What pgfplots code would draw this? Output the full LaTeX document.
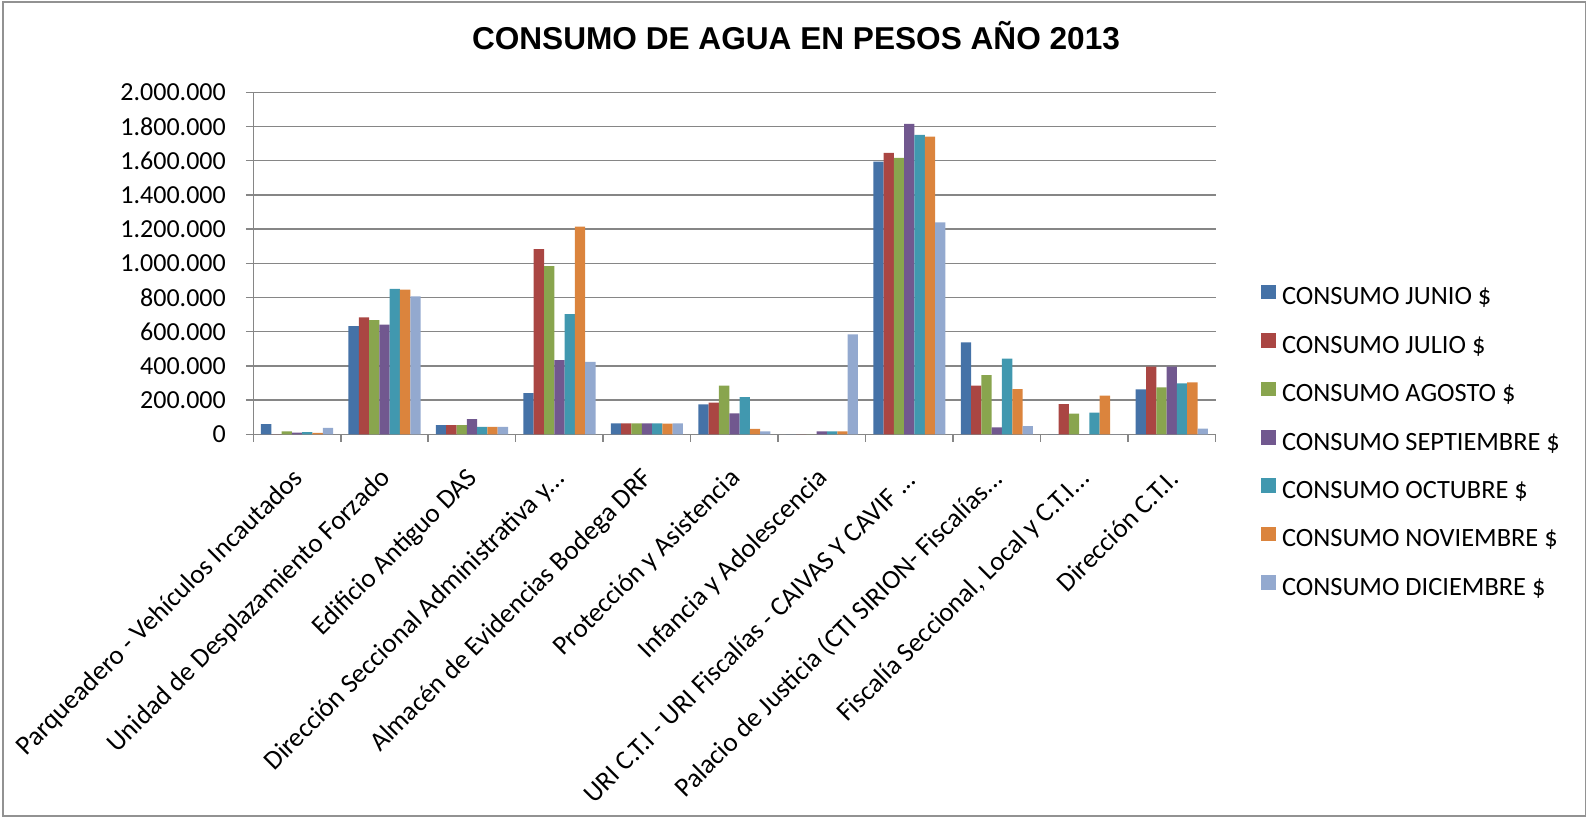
\documentclass[border=0pt]{standalone}
\usepackage{fontspec}
\setmainfont{Carlito}
\newfontfamily\titlefont{Liberation Sans}
\usepackage{pgfplots}
\usepackage{pgfplotstable}
\pgfplotsset{compat=1.18}

\definecolor{cjun}{HTML}{4572A7}
\definecolor{cjul}{HTML}{AA4643}
\definecolor{cago}{HTML}{89A54E}
\definecolor{csep}{HTML}{71588F}
\definecolor{coct}{HTML}{4198AF}
\definecolor{cnov}{HTML}{DB843D}
\definecolor{cdic}{HTML}{93A9CF}
\definecolor{gridgray}{HTML}{868686}

\newcommand\pts{.{}.{}.}

% consumo por dependencia (pesos), junio a diciembre
\pgfplotstableread{
x  jun     jul     ago     sep     oct     nov     dic
0  60000   0       17000   10000   13000   8000    37000
1  633000  684000  667000  641000  851000  846000  807000
2  54000   54000   54000   88000   43000   43000   43000
3  241000  1083000 984000  434000  703000  1214000 423000
4  64000   64000   64000   64000   64000   62000   64000
5  175000  185000  284000  123000  218000  31000   17000
6  0       0       0       17000   17000   17000   585000
7  1595000 1645000 1616000 1815000 1751000 1741000 1239000
8  537000  284000  346000  41000   443000  264000  48000
9  0       177000  121000  0       126000  226000  0
10 263000  395000  275000  395000  298000  304000  33000
}\agua

\begin{document}
\begin{tikzpicture}[x=1pt,y=1pt]
\useasboundingbox (0,0) rectangle (793.5,408.5);
\draw[gridgray!90, line width=0.75pt] (1.5,0.5) rectangle (792.8,407.5);
\node[font=\titlefont\bfseries\fontsize{15.8}{19}\selectfont, anchor=base]
  at (398,383.5) {CONSUMO DE AGUA EN PESOS AÑO 2013};
\begin{axis}[
  at={(126.65pt,191.35pt)}, anchor=south west,
  scale only axis, width=481.1pt, height=171pt,
  ybar=0pt, bar width=5.15pt,
  xmin=-0.5, xmax=10.5, ymin=0, ymax=2000000,
  axis x line=bottom, axis y line=left,
  axis line style={-, draw=gridgray, line width=0.75pt},
  tick align=outside, major tick length=3.75pt,
  major tick style={draw=gridgray, line width=0.75pt},
  ymajorgrids, grid style={draw=gridgray, line width=0.75pt},
  ytick={0,200000,...,2000000}, scaled y ticks=false,
  yticklabel style={font=\fontsize{13}{15}\selectfont, anchor=east, inner sep=0pt, xshift=-9.8pt,
    /pgf/number format/.cd, fixed, precision=0, 1000 sep={.}, assume math mode=true},
  xtick={-0.5,0.5,...,10.5}, xticklabels={},
  extra x ticks={0,1,2,3,4,5,6,7,8,9,10},
  extra x tick style={major tick length=0pt, grid=none},
  extra x tick labels={
    {Parqueadero - Vehículos Incautados},
    {Unidad de Desplazamiento Forzado},
    {Edificio Antiguo DAS},
    {Dirección Seccional Administrativa y\pts},
    {Almacén de Evidencias Bodega DRF},
    {Protección y Asistencia},
    {Infancia y Adolescencia},
    {URI C.T.I - URI Fiscalías - CAIVAS Y CAVIF \pts},
    {Palacio de Justicia (CTI SIRION- Fiscalías\pts},
    {Fiscalía Seccional, Local y C.T.I\pts},
    {Dirección C.T.I.}},
  xticklabel style={font=\fontsize{13.5}{15}\selectfont, inner sep=0pt,
    xshift=1pt, yshift=-20pt, rotate=45, anchor=east},
  legend style={at={(1.0473,0.4383)}, anchor=north west, draw=none, fill=none,
    font=\fontsize{13.2}{15}\selectfont, row sep=11.1pt, inner sep=0pt,
    nodes={inner sep=0pt, text height=9pt, text depth=3pt},
    /tikz/every odd column/.append style={column sep=3pt}},
  legend cell align=left,
  legend image code/.code={\fill[#1] (0pt,-0.2pt) rectangle (7.3pt,7.1pt);},
]
\addplot[fill=cjun, draw=none] table[x=x, y=jun] {\agua};
\addplot[fill=cjul, draw=none] table[x=x, y=jul] {\agua};
\addplot[fill=cago, draw=none] table[x=x, y=ago] {\agua};
\addplot[fill=csep, draw=none] table[x=x, y=sep] {\agua};
\addplot[fill=coct, draw=none] table[x=x, y=oct] {\agua};
\addplot[fill=cnov, draw=none] table[x=x, y=nov] {\agua};
\addplot[fill=cdic, draw=none] table[x=x, y=dic] {\agua};
\legend{CONSUMO JUNIO \$, CONSUMO JULIO \$, CONSUMO AGOSTO \$, CONSUMO SEPTIEMBRE \$,
  CONSUMO OCTUBRE \$, CONSUMO NOVIEMBRE \$, CONSUMO DICIEMBRE \$}
\end{axis}
\end{tikzpicture}
\end{document}
